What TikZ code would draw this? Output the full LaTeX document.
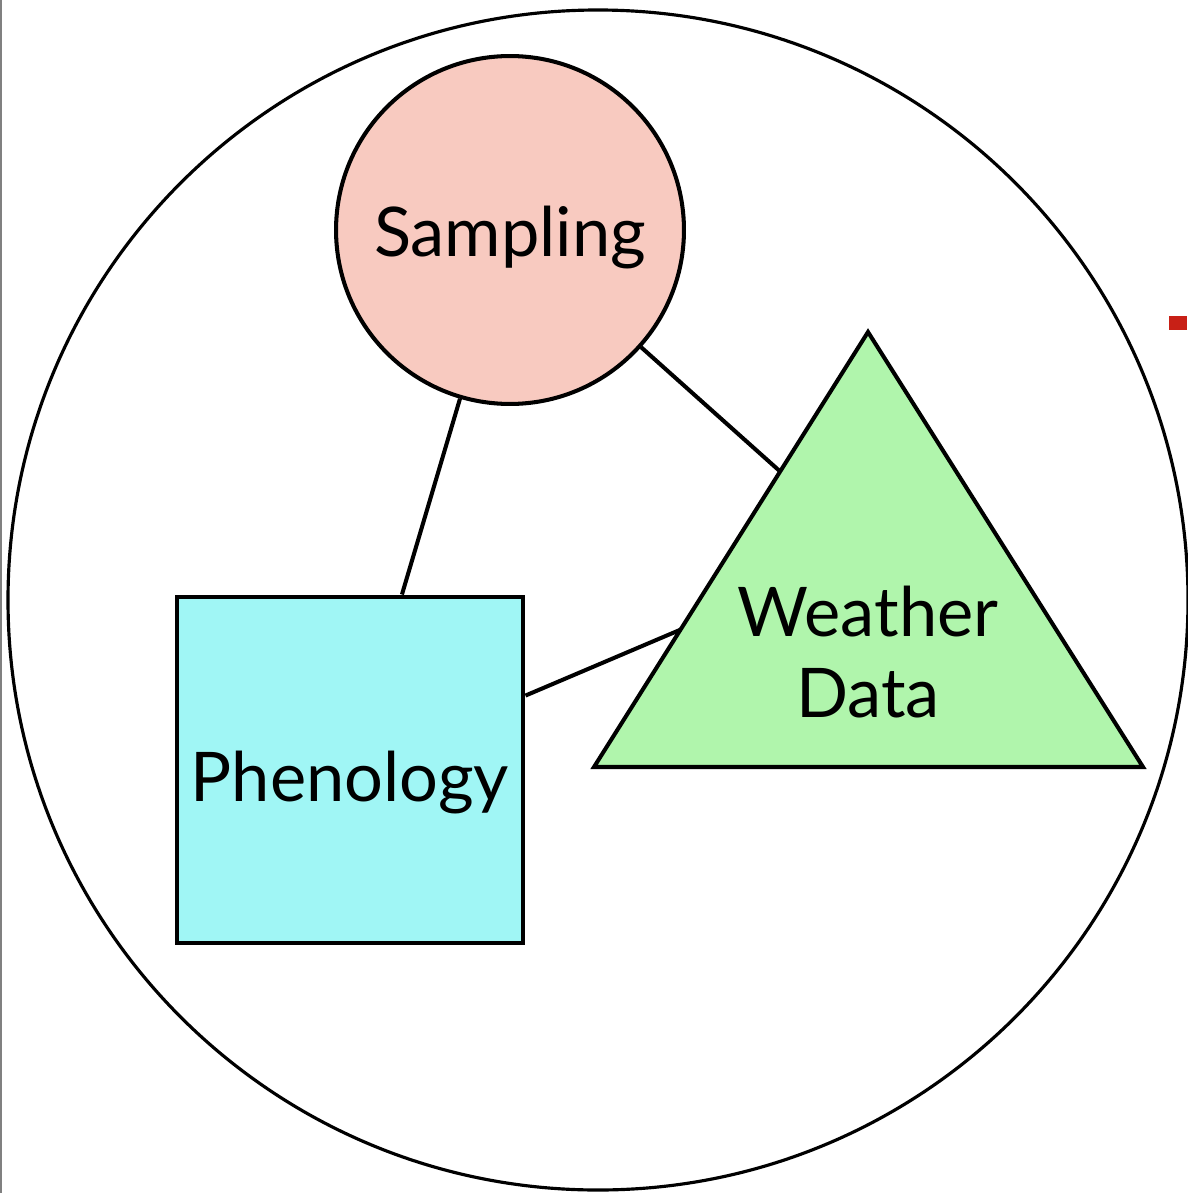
\documentclass[tikz,border=0pt]{standalone}
\usepackage{fontspec}
\setmainfont{Lato}
\usetikzlibrary{backgrounds}
\definecolor{sampfill}{RGB}{248,202,192}
\definecolor{phenfill}{RGB}{160,246,245}
\definecolor{wthrfill}{RGB}{176,245,172}
\definecolor{markred}{RGB}{200,32,22}
\newcommand{\lowertext}[2]{\raisebox{-#1}[\height][\depth]{#2}}

\begin{document}
\begin{tikzpicture}
	[x=0.02cm,y=-0.02cm,line width=2.3pt,
	 lbl/.style={font=\fontsize{39}{46}\selectfont,align=center,inner sep=0pt},
	 conn/.style={line width=2.3pt}]
	\useasboundingbox (0,0) rectangle (1187,1193);
	\draw[gray,line width=1.2pt] (1,0) -- (1,1193);
	\fill[markred] (1169,316) rectangle (1187,330);
	\draw[line width=1.8pt] (598,600) circle (590);
	
	\node[circle,draw,fill=sampfill,minimum size=6.96cm,lbl] (samp) at (510,230) {\lowertext{4.5pt}{Sampling}};
	\node[rectangle,draw,fill=phenfill,minimum size=6.94cm,lbl] (phen) at (350,770) {\lowertext{7pt}{Phenology}};
	\draw[fill=wthrfill,line join=miter] (868,332) -- (1143,767) -- (594,767) -- cycle;
	\node[lbl] (wthr) at (868,652) {Weather\\Data};
	\coordinate (wc) at (868,550);
	
	\begin{scope}[on background layer]
	\foreach \from/\to in {samp/phen,samp/wc,phen/wc}
	\draw[conn] (\from) -- (\to);
	\end{scope}
\end{tikzpicture}
\end{document}
